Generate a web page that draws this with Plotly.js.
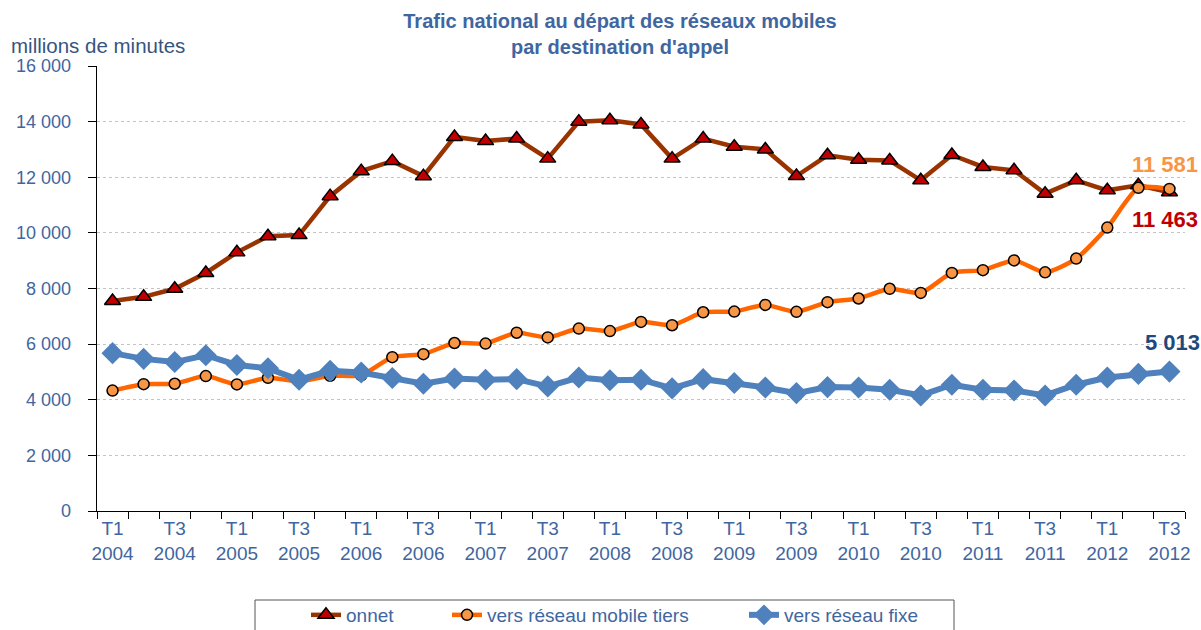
<!DOCTYPE html>
<html>
<head>
<meta charset="utf-8">
<script src="https://cdn.plot.ly/plotly-3.0.1.min.js"></script>
<style>html,body{margin:0;padding:0;background:#fff;}#chart{width:1201px;height:630px;}</style>
</head>
<body>
<div id="chart"></div>
<script>
var quarters = ["T1 2004","T2 2004","T3 2004","T4 2004","T1 2005","T2 2005","T3 2005","T4 2005",
  "T1 2006","T2 2006","T3 2006","T4 2006","T1 2007","T2 2007","T3 2007","T4 2007",
  "T1 2008","T2 2008","T3 2008","T4 2008","T1 2009","T2 2009","T3 2009","T4 2009",
  "T1 2010","T2 2010","T3 2010","T4 2010","T1 2011","T2 2011","T3 2011","T4 2011",
  "T1 2012","T2 2012","T3 2012"];
var onnet = [7550,7700,7990,8560,9300,9880,9920,11320,12220,12580,12040,13450,13300,13390,12670,14000,14050,13900,12670,13390,13100,13000,12045,12790,12630,12600,11890,12800,12370,12250,11410,11890,11530,11710,11463];
var mobileTiers = [4330,4560,4575,4850,4550,4790,4660,4860,4880,5530,5640,6040,6020,6410,6240,6560,6470,6800,6680,7145,7170,7410,7160,7510,7640,7990,7840,8560,8660,9010,8580,9075,10190,11620,11581];
var fixe = [5675,5470,5355,5600,5250,5130,4720,5040,4980,4780,4575,4765,4720,4740,4480,4800,4700,4720,4410,4740,4600,4440,4240,4455,4440,4360,4155,4540,4360,4335,4155,4540,4800,4930,5013];
var seriesNames = ["onnet", "vers réseau mobile tiers", "vers réseau fixe"];
var yTickValues = [0,2000,4000,6000,8000,10000,12000,14000,16000];

var xIdx = quarters.map(function(q, i){ return i; });
var tickVals = [], tickText = [];
quarters.forEach(function(q, i){
  if (q.indexOf("T1") === 0 || q.indexOf("T3") === 0) { tickVals.push(i); tickText.push(q.replace(" ", "<br>")); }
});
function fmt(v){ return String(Math.round(v)).replace(/\B(?=(\d{3})+(?!\d))/g, " "); }

var L = 97, R = 16, T = 66, B = 119, W = 1201, H = 630;
var pw = W - L - R, ph = H - T - B;
function px2x(p){ return (p - L) / pw; }
function py2y(p){ return (H - B - p) / ph; }

var traces = [
  {x: xIdx, y: onnet, name: seriesNames[0], type: 'scatter', mode: 'lines+markers', legend: 'legend2',
   line: {color: '#993300', width: 4.5},
   marker: {symbol: 'triangle-up', size: 14, color: '#C00000', line: {color: '#000', width: 1.5}}},
  {x: xIdx, y: mobileTiers, name: seriesNames[1], type: 'scatter', mode: 'lines+markers', legend: 'legend3',
   line: {color: '#FF6600', width: 4.5, shape: 'spline', smoothing: 0.6},
   marker: {symbol: 'circle', size: 11, color: '#F79646', line: {color: '#000', width: 1.5}}},
  {x: xIdx, y: fixe, name: seriesNames[2], type: 'scatter', mode: 'lines+markers', legend: 'legend4',
   line: {color: '#4F81BD', width: 6},
   marker: {symbol: 'diamond', size: 17, color: '#4F81BD', line: {width: 0}}}
];

var n = quarters.length - 1;
var legFont = {family: 'Liberation Sans, Arial, sans-serif', size: 19, color: '#3F66A0'};
function leg(px){ return {orientation: 'h', x: px2x(px), xanchor: 'left', y: py2y(615), yanchor: 'middle',
  bgcolor: 'rgba(0,0,0,0)', borderwidth: 0, font: legFont}; }

var layout = {
  width: W, height: H,
  margin: {l: L, r: R, t: T, b: B, autoexpand: false},
  paper_bgcolor: '#fff', plot_bgcolor: '#fff',
  font: {family: 'Liberation Sans, Arial, sans-serif', color: '#3F66A0'},
  separators: ', ',
  showlegend: true,
  title: {text: '<b>Trafic national au départ des réseaux mobiles<br>par destination d\'appel</b>',
    font: {size: 20, color: '#3F66A0', family: 'Liberation Sans, Arial, sans-serif'},
    x: 620 / W, xref: 'container', xanchor: 'center', y: 1 - 28 / H, yref: 'container', yanchor: 'top'},
  xaxis: {range: [-0.5, n + 0.5], tickmode: 'array', tickvals: tickVals, ticktext: tickText,
    ticks: '', ticklen: 0, showgrid: false, zeroline: false, showline: true, linecolor: '#000', linewidth: 1.3,
    tickfont: {size: 19, color: '#3F66A0'}, ticklabelstandoff: 0,
    minor: {tick0: -0.5, dtick: 1, ticks: 'outside', ticklen: 7, tickcolor: '#000', tickwidth: 1, showgrid: false}},
  yaxis: {range: [0, 16000], tickmode: 'array', tickvals: yTickValues, tickformat: ',d',
    ticks: 'outside', ticklen: 8, tickcolor: '#000', tickwidth: 1,
    showgrid: true, gridcolor: '#C4C4C4', griddash: 'dot', gridwidth: 1,
    zeroline: false, showline: true, linecolor: '#000', linewidth: 1.3,
    tickfont: {size: 18, color: '#3F66A0'}, ticklabelstandoff: 13},
  legend: {visible: false},
  legend2: leg(306), legend3: leg(447), legend4: leg(744),
  shapes: [{type: 'rect', xref: 'paper', yref: 'paper', x0: px2x(255), x1: px2x(954), y0: py2y(600), y1: py2y(660),
    line: {color: '#555', width: 1}, fillcolor: 'rgba(0,0,0,0)'}],
  annotations: [
    {xref: 'paper', yref: 'paper', x: px2x(9), y: py2y(45), xanchor: 'left', yanchor: 'middle', showarrow: false,
     text: 'millions de minutes', font: {size: 20.5, color: '#36557F'}},
    {xref: 'x', yref: 'y', x: n, y: mobileTiers[n], showarrow: false, xanchor: 'center', yanchor: 'middle',
     xshift: -4, yshift: 24, text: '<b>' + fmt(mobileTiers[n]) + '</b>', font: {size: 22, color: '#F79646'}},
    {xref: 'x', yref: 'y', x: n, y: onnet[n], showarrow: false, xanchor: 'center', yanchor: 'middle',
     xshift: -4, yshift: -27, text: '<b>' + fmt(onnet[n]) + '</b>', font: {size: 22, color: '#C00000'}},
    {xref: 'x', yref: 'y', x: n, y: fixe[n], showarrow: false, xanchor: 'center', yanchor: 'middle',
     xshift: 3, yshift: 29, text: '<b>' + fmt(fixe[n]) + '</b>', font: {size: 22, color: '#1F497D'}}
  ]
};

Plotly.newPlot('chart', traces, layout, {displayModeBar: false, staticPlot: true});
</script>
</body>
</html>
